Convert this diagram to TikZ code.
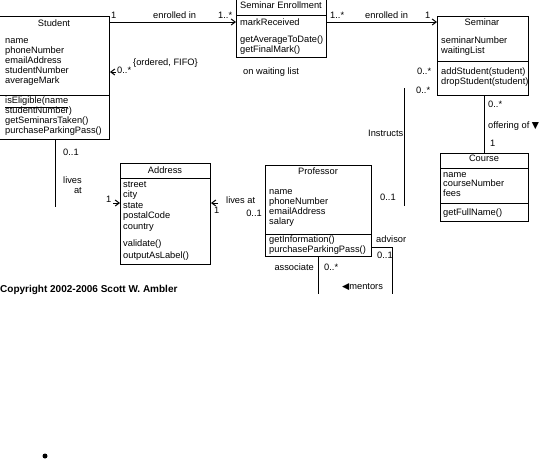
\documentclass[tikz,border=0pt]{standalone}
\usepackage{fontspec}
\setmainfont{Liberation Sans}
\newfontfamily\symfont{DejaVu Sans}
\usetikzlibrary{arrows.meta}
\newcommand{\umlfont}{\fontsize{9.3}{10}\selectfont}

\tikzset{
  classbox/.style={draw, line width=1pt, inner sep=0pt, anchor=north west},
  classname/.style={font=\umlfont, inner sep=0pt, anchor=base},
  member/.style={font=\umlfont, inner sep=0pt, anchor=base west},
  role/.style={font=\umlfont, inner sep=0pt, anchor=base west},
  assoc/.style={line width=1pt},
  navarrow/.style={line width=1pt, -{Straight Barb[length=4pt,width=6pt]}},
}

\begin{document}
\begin{tikzpicture}[x=1pt,y=-1pt]
  \useasboundingbox (0,0) rectangle (541,459);

  % class boxes
  \node[classbox,minimum width=110pt,minimum height=123pt] (student) at (-1,16) {};
  \node[classbox,minimum width=90pt,minimum height=58pt] (enrollment) at (236,-1) {};
  \node[classbox,minimum width=91pt,minimum height=79pt] (seminar) at (437,16) {};
  \node[classbox,minimum width=88pt,minimum height=68pt] (course) at (440,153) {};
  \node[classbox,minimum width=90pt,minimum height=101pt] (address) at (120,163) {};
  \node[classbox,minimum width=106pt,minimum height=91pt] (professor) at (265,165) {};

  % compartments
  \draw[assoc] (-1,95) -- (109,95);
  \draw[assoc] (236,15) -- (326,15);
  \draw[assoc] (437,61) -- (528,61);
  \draw[assoc] (440,168) -- (528,168) (440,203) -- (528,203);
  \draw[assoc] (120,178) -- (210,178);
  \draw[assoc] (265,234) -- (371,234);

  % class names
  \node[classname] (studentName) at (54,26) {Student};
  \node[classname] (enrollmentName) at (281,8.5) {Seminar Enrollment};
  \node[classname] (seminarName) at (482,25.5) {Seminar};
  \node[classname] (courseName) at (484,161.5) {Course};
  \node[classname] (addressName) at (165,173) {Address};
  \node[classname] (professorName) at (318,174.5) {Professor};

  % Student
  \foreach \t [count=\i from 0] in {name,phoneNumber,emailAddress,studentNumber,averageMark}
    \node[member] (stuAttr\i) at (5,43+10*\i) {\t};
  \foreach \t [count=\i from 0] in {{\underline{isEligible(name}},studentNumber),getSeminarsTaken(),purchaseParkingPass()}
    \node[member] (stuOp\i) at (5,103.5+10*\i) {\t};

  % Seminar Enrollment
  \node[member] (enrAttr) at (240,25) {markReceived};
  \node[member] (enrOp0) at (240,42) {getAverageToDate()};
  \node[member] (enrOp1) at (240,52) {getFinalMark()};

  % Seminar
  \node[member] (semAttr0) at (441,43) {seminarNumber};
  \node[member] (semAttr1) at (441,53) {waitingList};
  \node[member] (semOp0) at (441,74) {addStudent(student)};
  \node[member] (semOp1) at (441,84) {dropStudent(student)};

  % Course
  \foreach \t [count=\i from 0] in {name,courseNumber,fees}
    \node[member] (crsAttr\i) at (443,177+9.5*\i) {\t};
  \node[member] (crsOp) at (443,215.5) {getFullName()};

  % Address
  \foreach \t [count=\i from 0] in {street,city,state,postalCode,country}
    \node[member] (adrAttr\i) at (123,187+10.5*\i) {\t};
  \node[member] (adrOp0) at (123,246) {validate()};
  \node[member] (adrOp1) at (123,258) {outputAsLabel()};

  % Professor
  \foreach \t [count=\i from 0] in {name,phoneNumber,emailAddress,salary}
    \node[member] (prfAttr\i) at (269,194+10.3*\i) {\t};
  \node[member] (prfOp0) at (269,242.8) {getInformation()};
  \node[member] (prfOp1) at (269,252.6) {purchaseParkingPass()};

  % associations
  \coordinate (enrolRow) at (0,22);
  \draw[navarrow] (student.east |- enrolRow) -- (enrollment.west |- enrolRow);
  \draw[navarrow] (enrollment.east |- enrolRow) -- (seminar.west |- enrolRow);
  \coordinate (waitEnd) at (116,72);
  \draw[navarrow] (waitEnd) -- (student.east |- waitEnd);
  \coordinate (livesEnd) at (55,207);
  \draw[assoc] (student.south -| livesEnd) -- (livesEnd);
  \coordinate (livesIn) at (113,203);
  \draw[navarrow] (livesIn) -- (address.west |- livesIn);
  \coordinate (livesAt) at (218,203);
  \draw[navarrow] (livesAt) -- (address.east |- livesAt);
  \coordinate (instrTop) at (404,88);
  \coordinate (instrBot) at (404,206);
  \draw[assoc] (instrTop) -- (instrBot);
  \coordinate (offerX) at (484,0);
  \draw[assoc] (seminar.south -| offerX) -- (course.north -| offerX);
  \coordinate (mentorL) at (318,294);
  \coordinate (mentorA) at (392,247);
  \coordinate (mentorB) at (392,294);
  \draw[assoc] (professor.south -| mentorL) -- (mentorL);
  \draw[assoc] (professor.east |- mentorA) -- (mentorA) -- (mentorB);

  % association labels
  \node[role] (m1) at (111,18) {1};
  \node[role] (a1) at (153,18) {enrolled in};
  \node[role] (m2) at (218,18) {1..*};
  \node[role] (m3) at (330,18) {1..*};
  \node[role] (a2) at (365,18) {enrolled in};
  \node[role] (m4) at (425,18) {1};
  \node[role] (m5) at (117,73) {0..*};
  \node[role] (c1) at (133,65) {\{ordered, FIFO\}};
  \node[role] (a3) at (243,74) {on waiting list};
  \node[role] (m6) at (417,74) {0..*};
  \node[role] (m7) at (416,93) {0..*};
  \node[role] (a4) at (368,136) {Instructs};
  \node[role] (m8) at (488,107) {0..*};
  \node[role] (a5) at (488,128) {offering of {\symfont ▼}};
  \node[role] (m9) at (490,146) {1};
  \node[role] (m10) at (63,155) {0..1};
  \node[font=\umlfont,inner sep=0pt,align=right,anchor=north west] (a6) at (63,177) {lives\\at};
  \node[role] (m11) at (106,202) {1};
  \node[role] (m12) at (214,213) {1};
  \node[role] (a7) at (226,203) {lives at};
  \node[font=\umlfont,inner sep=0pt,anchor=base east] (m13) at (262,216) {0..1};
  \node[role] (m14) at (380,200) {0..1};
  \node[role] (r1) at (376,242) {advisor};
  \node[role] (m15) at (377,258) {0..1};
  \node[font=\umlfont,inner sep=0pt,anchor=base east] (r2) at (314,270) {associate};
  \node[role] (m16) at (324,270) {0..*};
  \node[role] (a8) at (342,289) {{\symfont ◀}mentors};

  \node[font=\bfseries\fontsize{10}{12}\selectfont,inner sep=0pt,anchor=base west] (copy) at (0,292) {Copyright 2002-2006 Scott W. Ambler};
  \fill (45,456) circle (2.5);
\end{tikzpicture}
\end{document}
